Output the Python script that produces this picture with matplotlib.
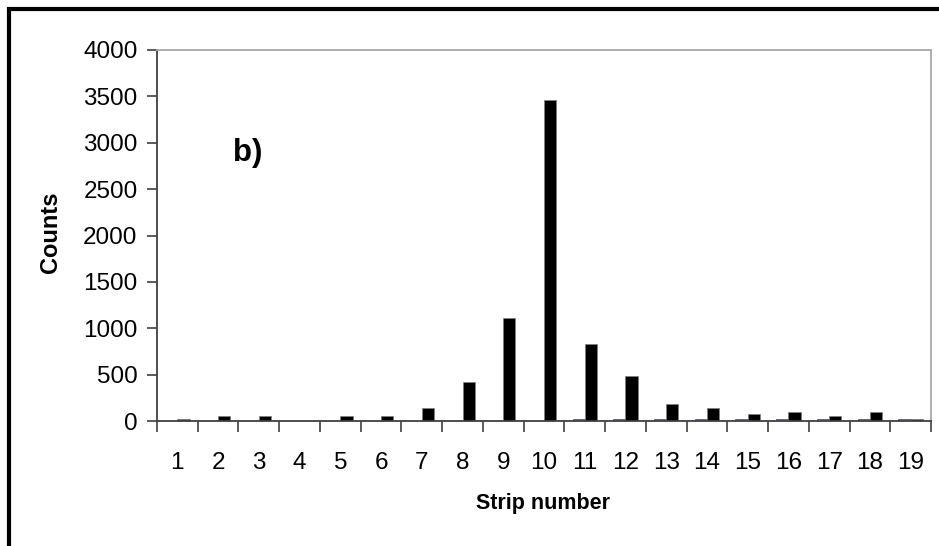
import numpy as np
import matplotlib
matplotlib.use("Agg")
import matplotlib.pyplot as plt
from matplotlib.patches import Rectangle

# data
strips = list(range(1, 20))
counts_small = [0, 0, 0, 0, 0, 0, 0, 0, 0, 0, 22, 22, 22, 22, 22, 22, 22, 22, 22]
counts_main = [25, 50, 50, 0, 50, 50, 140, 417, 1107, 3460, 827, 485, 180, 140, 75, 97, 54, 97, 25]
ytick_vals = [0, 500, 1000, 1500, 2000, 2500, 3000, 3500, 4000]

plt.rcParams['font.family'] = ['Liberation Sans', 'DejaVu Sans']

fig = plt.figure(figsize=(9.39, 5.46), dpi=100)
ax = fig.add_axes([157/939, 1-421/546, (931-157)/939, (421-50)/546])

x = np.arange(len(strips))
w = 0.3
ax.bar(x - w/2, counts_small, width=w, color='#8c8cc8', edgecolor='#404060', linewidth=0.5)
ax.bar(x + w/2, counts_main, width=w, color='black', edgecolor='#808080', linewidth=0.5)

ax.set_xlim(-0.5, len(strips) - 0.5)
ax.set_ylim(0, 4000)
ax.set_yticks(ytick_vals)
ax.set_yticklabels([str(v) for v in ytick_vals], fontsize=17.5)

# category labels at centres, tick marks at boundaries
ax.set_xticks(x)
ax.set_xticklabels([str(s) for s in strips], fontsize=17.5)
ax.tick_params(axis='x', length=0, pad=22)
ax.set_xticks(np.arange(-0.5, len(strips)), minor=True)
ax.tick_params(axis='x', which='minor', length=8, width=1.2, color='#404040', direction='out')
ax.tick_params(axis='y', length=7, width=1.2, color='#404040', direction='out', pad=7)

for s in ['left', 'bottom']:
    ax.spines[s].set_color('#404040')
    ax.spines[s].set_linewidth(1.3)
for s in ['top', 'right']:
    ax.spines[s].set_color('#a8a8a8')
    ax.spines[s].set_linewidth(1.3)

fig.text(50/939, 1-232/546, 'Counts', rotation=90, fontsize=17, fontweight='bold',
         ha='center', va='center')
fig.text(543/939, 1-503/546, 'Strip number', fontsize=15.5, fontweight='bold',
         ha='center', va='center')
fig.text(248/939, 1-153/546, 'b)', fontsize=22.5, fontweight='bold',
         ha='center', va='center')

# outer chart frame (only top and left visible)
fig.patches.append(Rectangle((9/939, -0.2), 2.0, 1.2 - 9/546, transform=fig.transFigure,
                             fill=False, edgecolor='black', linewidth=3))

fig.savefig('out.png', dpi=100)
